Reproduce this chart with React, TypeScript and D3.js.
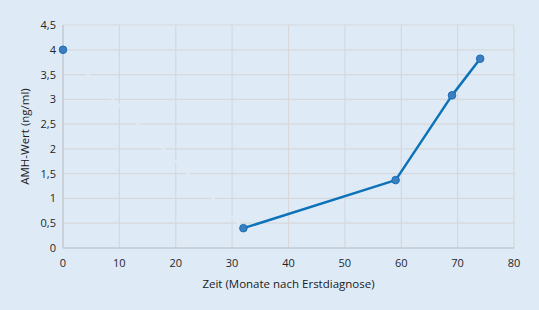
import React, { useEffect, useRef } from "react";
import * as d3 from "d3";

// Zeitpunkte (Monate nach Erstdiagnose) und AMH-Werte (ng/ml)
const months = [0, 32, 59, 69, 74];
const amhValues = [4.0, 0.4, 1.37, 3.08, 3.82];
const xTicks = [0, 10, 20, 30, 40, 50, 60, 70, 80];
const yTicks = [0, 0.5, 1, 1.5, 2, 2.5, 3, 3.5, 4, 4.5];

const bg = "#deebf7";

function App() {
  const svgRef = useRef<SVGSVGElement>(null);
  const width = 539;
  const height = 310;

  useEffect(() => {
    const margin = { top: 25, right: 25, bottom: 62, left: 63 };
    const svg = d3.select(svgRef.current);
    svg.selectAll("*").remove();

    svg.append("rect").attr("width", width).attr("height", height).attr("fill", bg);

    const x = d3.scaleLinear().domain([0, 80]).range([margin.left, width - margin.right]);
    const y = d3.scaleLinear().domain([0, 4.5]).range([height - margin.bottom, margin.top]);

    const fmt = (v: number) => String(v).replace(".", ",");
    const font = "'Open Sans', 'Noto Sans', sans-serif";

    // gridlines
    const g = svg.append("g");
    g.selectAll("line.h")
      .data(yTicks.slice(1))
      .join("line")
      .attr("x1", x(0)).attr("x2", x(80))
      .attr("y1", d => y(d)).attr("y2", d => y(d))
      .attr("stroke", "#d6d8db").attr("stroke-width", 1.2);
    g.selectAll("line.v")
      .data(xTicks.slice(1))
      .join("line")
      .attr("x1", d => x(d)).attr("x2", d => x(d))
      .attr("y1", y(0)).attr("y2", y(4.5))
      .attr("stroke", "#d6d8db").attr("stroke-width", 1.2);

    // axis lines
    svg.append("line")
      .attr("x1", x(0)).attr("x2", x(0)).attr("y1", y(0)).attr("y2", y(4.5))
      .attr("stroke", "#c4c9cf").attr("stroke-width", 1.5);
    svg.append("line")
      .attr("x1", x(0)).attr("x2", x(80)).attr("y1", y(0)).attr("y2", y(0))
      .attr("stroke", "#c4c9cf").attr("stroke-width", 1.5);

    // tick labels
    svg.append("g").selectAll("text")
      .data(xTicks)
      .join("text")
      .attr("x", d => x(d)).attr("y", y(0) + 19)
      .attr("text-anchor", "middle")
      .attr("font-family", font).attr("font-size", 11).attr("fill", "#262626")
      .text(d => d);
    svg.append("g").selectAll("text")
      .data(yTicks)
      .join("text")
      .attr("x", x(0) - 7).attr("y", d => y(d) + 4)
      .attr("text-anchor", "end")
      .attr("font-family", font).attr("font-size", 11).attr("fill", "#262626")
      .text(d => fmt(d));

    // axis titles
    svg.append("text")
      .attr("x", (x(0) + x(80)) / 2).attr("y", y(0) + 40)
      .attr("text-anchor", "middle")
      .attr("font-family", font).attr("font-size", 11.5).attr("fill", "#1a1a1a")
      .text("Zeit (Monate nach Erstdiagnose)");
    svg.append("text")
      .attr("transform", `translate(29,${(y(0) + y(4.5)) / 2}) rotate(-90)`)
      .attr("text-anchor", "middle")
      .attr("font-family", font).attr("font-size", 11.5).attr("fill", "#1a1a1a")
      .text("AMH-Wert (ng/ml)");

    const pts = months.map((m, i) => [m, amhValues[i]] as [number, number]);
    const line = d3.line<[number, number]>().x(d => x(d[0])).y(d => y(d[1]));

    // first segment drawn in background colour (hidden line)
    svg.append("path")
      .attr("d", line(pts.slice(0, 2)))
      .attr("fill", "none").attr("stroke", bg).attr("stroke-width", 2.5);

    svg.append("path")
      .attr("d", line(pts.slice(1)))
      .attr("fill", "none").attr("stroke", "#0e72b8").attr("stroke-width", 2.5)
      .attr("stroke-linejoin", "round");

    svg.append("g").selectAll("circle")
      .data(pts)
      .join("circle")
      .attr("cx", d => x(d[0])).attr("cy", d => y(d[1]))
      .attr("r", 3.8)
      .attr("fill", "#3b7fc0").attr("stroke", "#1a6db3").attr("stroke-width", 1);
  }, []);

  return (
    <svg
      ref={svgRef}
      width={width}
      height={height}
      style={{ position: "absolute", left: 0, top: 0, display: "block" }}
    />
  );
}

export default App;
